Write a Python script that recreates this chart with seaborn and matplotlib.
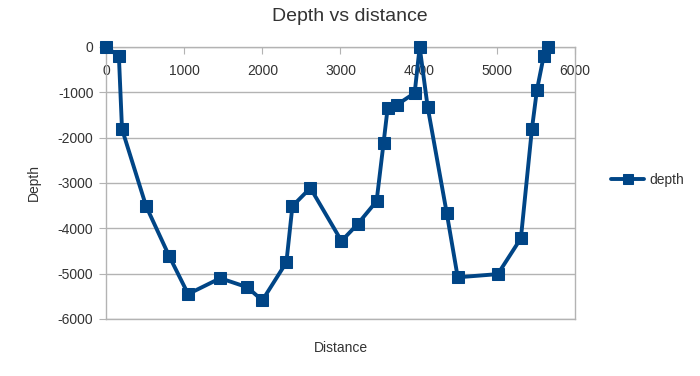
import matplotlib
matplotlib.use("Agg")
import matplotlib.pyplot as plt
import seaborn as sns
import pandas as pd

# ==========================================
# DATA
# ==========================================

distance = [0, 165, 205, 513, 808, 1051, 1462, 1808, 2000, 2308, 2385, 2615,
            3013, 3218, 3462, 3551, 3603, 3718, 3949, 4013, 4115, 4359,
            4500, 5013, 5308, 5449, 5513, 5600, 5654]
depth = [0, -200, -1810, -3510, -4610, -5450, -5100, -5300, -5590, -4750,
         -3510, -3110, -4280, -3910, -3400, -2120, -1350, -1280, -1015, 0,
         -1320, -3660, -5080, -5010, -4220, -1810, -950, -200, 0]

x_ticks = [0, 1000, 2000, 3000, 4000, 5000, 6000]
y_ticks = [0, -1000, -2000, -3000, -4000, -5000, -6000]

df = pd.DataFrame({"Distance": distance, "Depth": depth})

# ==========================================
# PLOT
# ==========================================

sns.set_style("white")
plt.rcParams["font.family"] = ["Liberation Sans", "DejaVu Sans"]
plt.rcParams["axes.unicode_minus"] = False

blue = "#004586"
grid_col = "#b3b3b3"
text_col = "#333333"

fig = plt.figure(figsize=(7, 3.76), dpi=100)
ax = fig.add_axes([0.1514, 0.1516, 0.67, 0.7234])

sns.lineplot(data=df, x="Distance", y="Depth", sort=False, ax=ax,
             color=blue, linewidth=2.8, marker="s", markersize=8.5,
             markeredgecolor=blue, label="depth", clip_on=False, zorder=5)

ax.set_xlim(0, 6000)
ax.set_ylim(-6000, 0)
ax.set_xticks(x_ticks)
ax.set_yticks(y_ticks)

# x axis crosses at depth 0, labels sit just under the top line
ax.tick_params(axis="x", top=True, bottom=False, labeltop=True, labelbottom=False,
               direction="in", length=5, pad=-22, color=grid_col,
               labelsize=10, labelcolor=text_col)
ax.tick_params(axis="y", left=True, direction="out", length=5, pad=4, color=grid_col,
               labelsize=10, labelcolor=text_col)

ax.yaxis.grid(True, color=grid_col, linewidth=1)
ax.xaxis.grid(False)
for s in ax.spines.values():
    s.set_color(grid_col)
    s.set_linewidth(1)

ax.set_xlabel("Distance", fontsize=10, color=text_col, labelpad=16)
ax.xaxis.set_label_position("bottom")
ax.set_ylabel("Depth", fontsize=10, color=text_col, labelpad=12)
fig.suptitle("Depth vs distance", x=0.5, y=0.978, fontsize=14, color=text_col)

ax.legend(loc="center left", bbox_to_anchor=(1.05, 0.51), frameon=False,
          fontsize=10, labelcolor=text_col, handlelength=2.4, handletextpad=0.35,
          markerscale=0.8)

fig.savefig("out.png", dpi=100)
